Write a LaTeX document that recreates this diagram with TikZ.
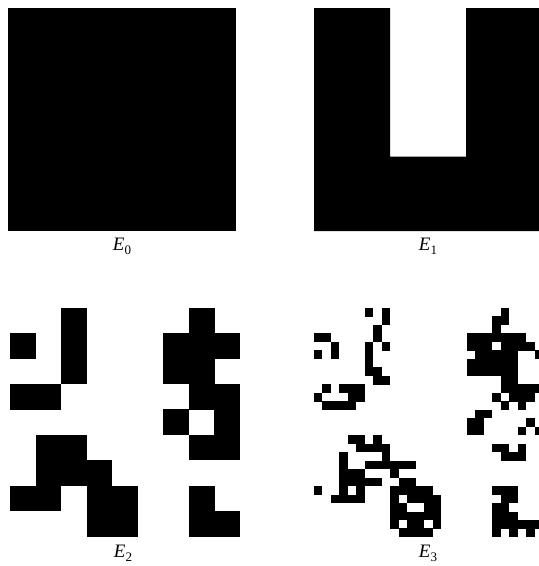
\documentclass[tikz,border=0pt]{standalone}
\usepackage{fontspec}
\setmainfont{Liberation Serif}
\begin{document}
\begin{tikzpicture}[x=1pt,y=-1pt]
\tikzset{
  ink/.style={fill=black},
  lbl/.style={inner sep=0pt, font=\fontsize{19}{19}\selectfont}
}
\newcommand{\Elabel}[1]{\textit{E}\kern0.3pt\raisebox{-0.45ex}{\fontsize{13}{13}\selectfont #1}}
\useasboundingbox (0,0) rectangle (539,566);
\fill[white] (0,0) rectangle (539,566);
% E0
\fill[ink] (8,8) rectangle (236,231);
% E1
\fill[ink] (314,8) -- (390,8) -- (390,156.7) -- (466,156.7) -- (466,8) -- (542,8) -- (542,231) -- (314,231) -- cycle;
% E2
\foreach \r/\c in {0/2,1/0,1/2,2/2,3/0,3/1,5/1,5/2,6/1,6/2,6/3,7/0,7/1,7/3,7/4,8/3,8/4,
  0/7,1/6,1/7,1/8,2/6,2/7,3/7,3/8,4/6,4/8,5/7,5/8,7/7,8/7,8/8}
  \fill[ink] ({10+\c*25.56},{307.7+\r*25.4}) rectangle ++(25.8,25.6);
% E3
\foreach \r/\c in {0/6,0/8,1/8,2/7,3/7,4/6,4/8,5/6,6/6,7/6,7/7,8/7,8/8,3/0,3/1,4/2,5/0,5/2,
  9/1,10/0,11/1,11/2,9/3,9/4,9/5,10/4,10/5,11/3,11/4,
  0/22,1/21,1/22,2/21,3/18,3/19,3/20,3/21,3/22,3/23,3/24,4/18,4/19,4/20,4/22,4/23,4/24,4/25,
  5/19,5/20,5/21,5/22,5/23,5/26,6/18,6/19,6/20,6/21,6/22,6/23,7/18,7/19,7/20,7/21,7/22,7/23,
  8/22,8/23,9/22,9/23,9/24,9/25,9/26,10/21,10/23,10/24,10/25,11/22,11/24,
  12/19,12/20,13/18,13/19,14/18,14/19,13/25,14/24,14/26,16/21,16/22,16/24,17/22,17/23,17/24,
  21/21,21/22,21/23,22/22,22/23,23/21,23/22,24/21,24/22,24/23,25/21,25/22,25/23,25/24,25/25,25/26,
  26/21,26/23,26/25,
  15/4,15/5,16/5,17/3,15/7,16/6,16/7,16/8,17/8,18/3,19/3,19/4,19/5,20/3,20/4,20/5,
  18/6,18/7,18/8,20/6,20/7,18/9,18/10,18/11,19/9,20/10,20/11,21/0,22/2,21/3,21/5,22/3,22/4,22/5,
  21/9,21/10,21/11,22/9,22/11,23/9,23/10,21/12,21/13,22/12,22/13,22/14,23/13,23/14,
  24/9,24/10,24/11,25/9,25/11,26/10,26/11,24/12,24/13,24/14,25/12,25/14,26/12,26/13}
  \fill[ink] ({313.5+\c*8.5},{308+\r*8.48}) rectangle ++(8.7,8.7);
% labels
\node[lbl] (l0) at (122,246) {\Elabel{0}};
\node[lbl] (l1) at (428,246) {\Elabel{1}};
\node[lbl] (l2) at (123,553) {\Elabel{2}};
\node[lbl] (l3) at (428,553) {\Elabel{3}};
\end{tikzpicture}
\end{document}
